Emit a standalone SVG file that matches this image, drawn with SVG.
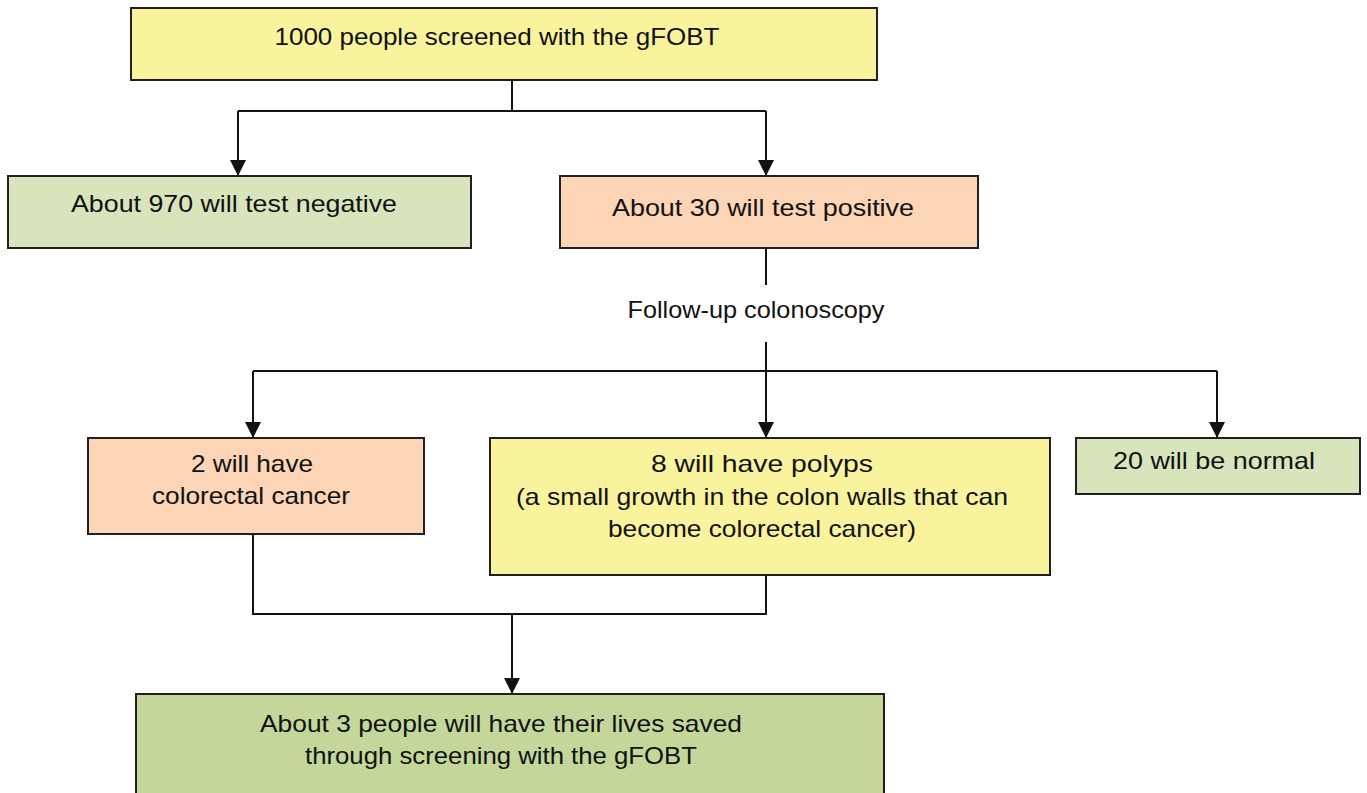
<svg xmlns="http://www.w3.org/2000/svg" width="1367" height="793" viewBox="0 0 1367 793">
<style>
.box{stroke:#231f20;stroke-width:2}
.y{fill:#faf39d}.g{fill:#d8e4bc}.o{fill:#fbd5b5}.dg{fill:#c4d79b}
text{font-family:"Liberation Sans",Arial,sans-serif;font-size:24px;fill:#111;text-anchor:middle}
.c{stroke:#111;stroke-width:2;fill:none}
</style>
<defs>
<marker id="a" viewBox="0 0 16 16" refX="15" refY="8" markerWidth="16" markerHeight="16" orient="auto" markerUnits="userSpaceOnUse"><path d="M0,0 L16,8 L0,16 z" fill="#111"/></marker>
</defs>
<g id="connectors">
<path class="c" d="M512,80 V111 M238,111 H766"/>
<path class="c" d="M238,111 V175" marker-end="url(#a)"/>
<path class="c" d="M766,111 V175" marker-end="url(#a)"/>
<path class="c" d="M766,248 V285"/>
<path class="c" d="M766,342 V437" marker-end="url(#a)"/>
<path class="c" d="M253,371 H1217"/>
<path class="c" d="M253,371 V437" marker-end="url(#a)"/>
<path class="c" d="M1217,371 V437" marker-end="url(#a)"/>
<path class="c" d="M253,534 V614 H766 V575"/>
<path class="c" d="M512,614 V693" marker-end="url(#a)"/>
</g>
<g id="n-screened">
<rect class="box y" x="131" y="8" width="746" height="72"/>
<text x="497" y="45" textLength="445" lengthAdjust="spacingAndGlyphs">1000 people screened with the gFOBT</text>
</g>
<g id="n-negative">
<rect class="box g" x="8" y="176" width="463" height="72"/>
<text x="234" y="212" textLength="326" lengthAdjust="spacingAndGlyphs">About 970 will test negative</text>
</g>
<g id="n-positive">
<rect class="box o" x="560" y="176" width="418" height="72"/>
<text x="763" y="216" textLength="302" lengthAdjust="spacingAndGlyphs">About 30 will test positive</text>
</g>
<g id="n-followup">
<text x="756" y="318" textLength="257" lengthAdjust="spacingAndGlyphs">Follow-up colonoscopy</text>
</g>
<g id="n-cancer">
<rect class="box o" x="88" y="438" width="336" height="96"/>
<text x="252" y="472" textLength="122" lengthAdjust="spacingAndGlyphs">2 will have</text>
<text x="251" y="504" textLength="198" lengthAdjust="spacingAndGlyphs">colorectal cancer</text>
</g>
<g id="n-polyps">
<rect class="box y" x="490" y="438" width="560" height="137"/>
<text x="762" y="472" textLength="222" lengthAdjust="spacingAndGlyphs">8 will have polyps</text>
<text x="762" y="505" textLength="492" lengthAdjust="spacingAndGlyphs">(a small growth in the colon walls that can</text>
<text x="762" y="537" textLength="308" lengthAdjust="spacingAndGlyphs">become colorectal cancer)</text>
</g>
<g id="n-normal">
<rect class="box g" x="1076" y="438" width="284" height="56"/>
<text x="1214" y="469" textLength="202" lengthAdjust="spacingAndGlyphs">20 will be normal</text>
</g>
<g id="n-saved">
<rect class="box dg" x="136" y="694" width="748" height="110"/>
<text x="501" y="732" textLength="482" lengthAdjust="spacingAndGlyphs">About 3 people will have their lives saved</text>
<text x="501" y="764" textLength="392" lengthAdjust="spacingAndGlyphs">through screening with the gFOBT</text>
</g>
</svg>
